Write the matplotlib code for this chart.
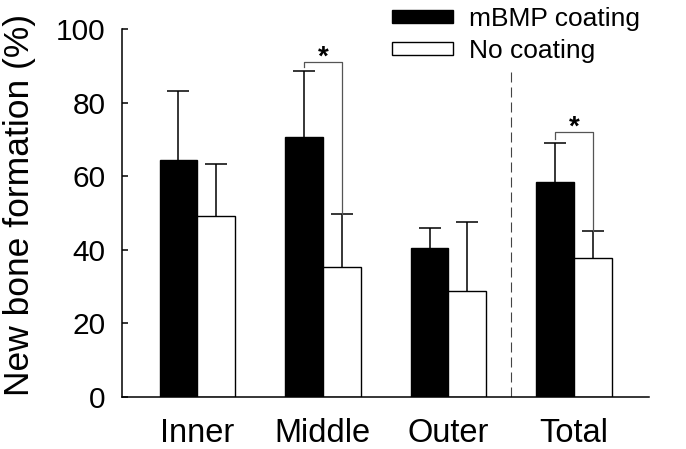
import matplotlib
matplotlib.use("Agg")
import matplotlib.pyplot as plt
import numpy as np

plt.rcParams['font.family'] = ['Liberation Sans', 'DejaVu Sans']

# --- data ---
regions = ["Inner", "Middle", "Outer", "Total"]
mbmp_mean = [64.5, 70.6, 40.5, 58.4]
mbmp_err = [18.7, 18.0, 5.4, 10.6]
none_mean = [49.2, 35.3, 28.8, 37.8]
none_err = [14.1, 14.4, 18.7, 7.3]

# significance brackets: group index and bracket height
sig_groups = [1, 3]
sig_top = [91.1, 72.0]

fig = plt.figure(figsize=(6.86, 4.49), dpi=100)
ax = fig.add_axes([122 / 686, 52.3 / 449, (649.3 - 122) / 686, (396.7 - 29) / 449])

x = np.arange(len(regions))
w = 0.3
ekw = dict(ecolor='black', elinewidth=1.1, capsize=8, capthick=1.1)

b1 = ax.bar(x - w / 2, mbmp_mean, w, color='black', edgecolor='black', linewidth=1.0,
            yerr=[np.zeros(len(x)), mbmp_err], error_kw=ekw, label="mBMP coating", zorder=2)
b2 = ax.bar(x + w / 2, none_mean, w, color='white', edgecolor='black', linewidth=1.0,
            yerr=[np.zeros(len(x)), none_err], error_kw=ekw, label="No coating", zorder=2)
# only the upper caps are drawn in the original
for b in (b1, b2):
    b.errorbar.lines[1][0].set_visible(False)

# brackets with stars
for g, top in zip(sig_groups, sig_top):
    left_bottom = mbmp_mean[g] + mbmp_err[g] + 1.0
    right_bottom = none_mean[g] + none_err[g]
    ax.plot([g - w / 2, g - w / 2, g + w / 2, g + w / 2],
            [left_bottom, top, top, right_bottom],
            color='#555555', linewidth=0.9, zorder=3)
    ax.text(g, top - 0.8, "*", ha='center', va='baseline', fontsize=20, fontweight='bold')

# separator before "Total"
ax.plot([2.5, 2.5], [0, 88.8], color='#444444', linewidth=0.8,
        linestyle=(0, (9, 4.5)), zorder=1)

ax.set_xlim(-0.6, 3.6)
ax.set_ylim(0, 100)
ax.set_yticks([0, 20, 40, 60, 80, 100])
ax.set_xticks(x)
ax.set_xticklabels(regions)

for s in ['top', 'right']:
    ax.spines[s].set_visible(False)
for s in ['left', 'bottom']:
    ax.spines[s].set_linewidth(1.1)

ax.tick_params(axis='y', direction='in', length=4, width=1.1, labelsize=21.5, pad=12)
ax.tick_params(axis='x', length=0, labelsize=23.5, pad=15)

fig.text(20 / 686, 1 - 205 / 449, "New bone formation (%)", rotation=90,
         ha='center', va='center', fontsize=25.5)

ax.legend(loc='upper left', bbox_to_anchor=(392 / 686, 1 - 7 / 449),
          bbox_transform=fig.transFigure, frameon=False, fontsize=19,
          handlelength=2.3, handleheight=0.42, handletextpad=0.6,
          labelspacing=0.3, borderpad=0, borderaxespad=0)

fig.savefig("out.png", dpi=100)
plt.close(fig)
